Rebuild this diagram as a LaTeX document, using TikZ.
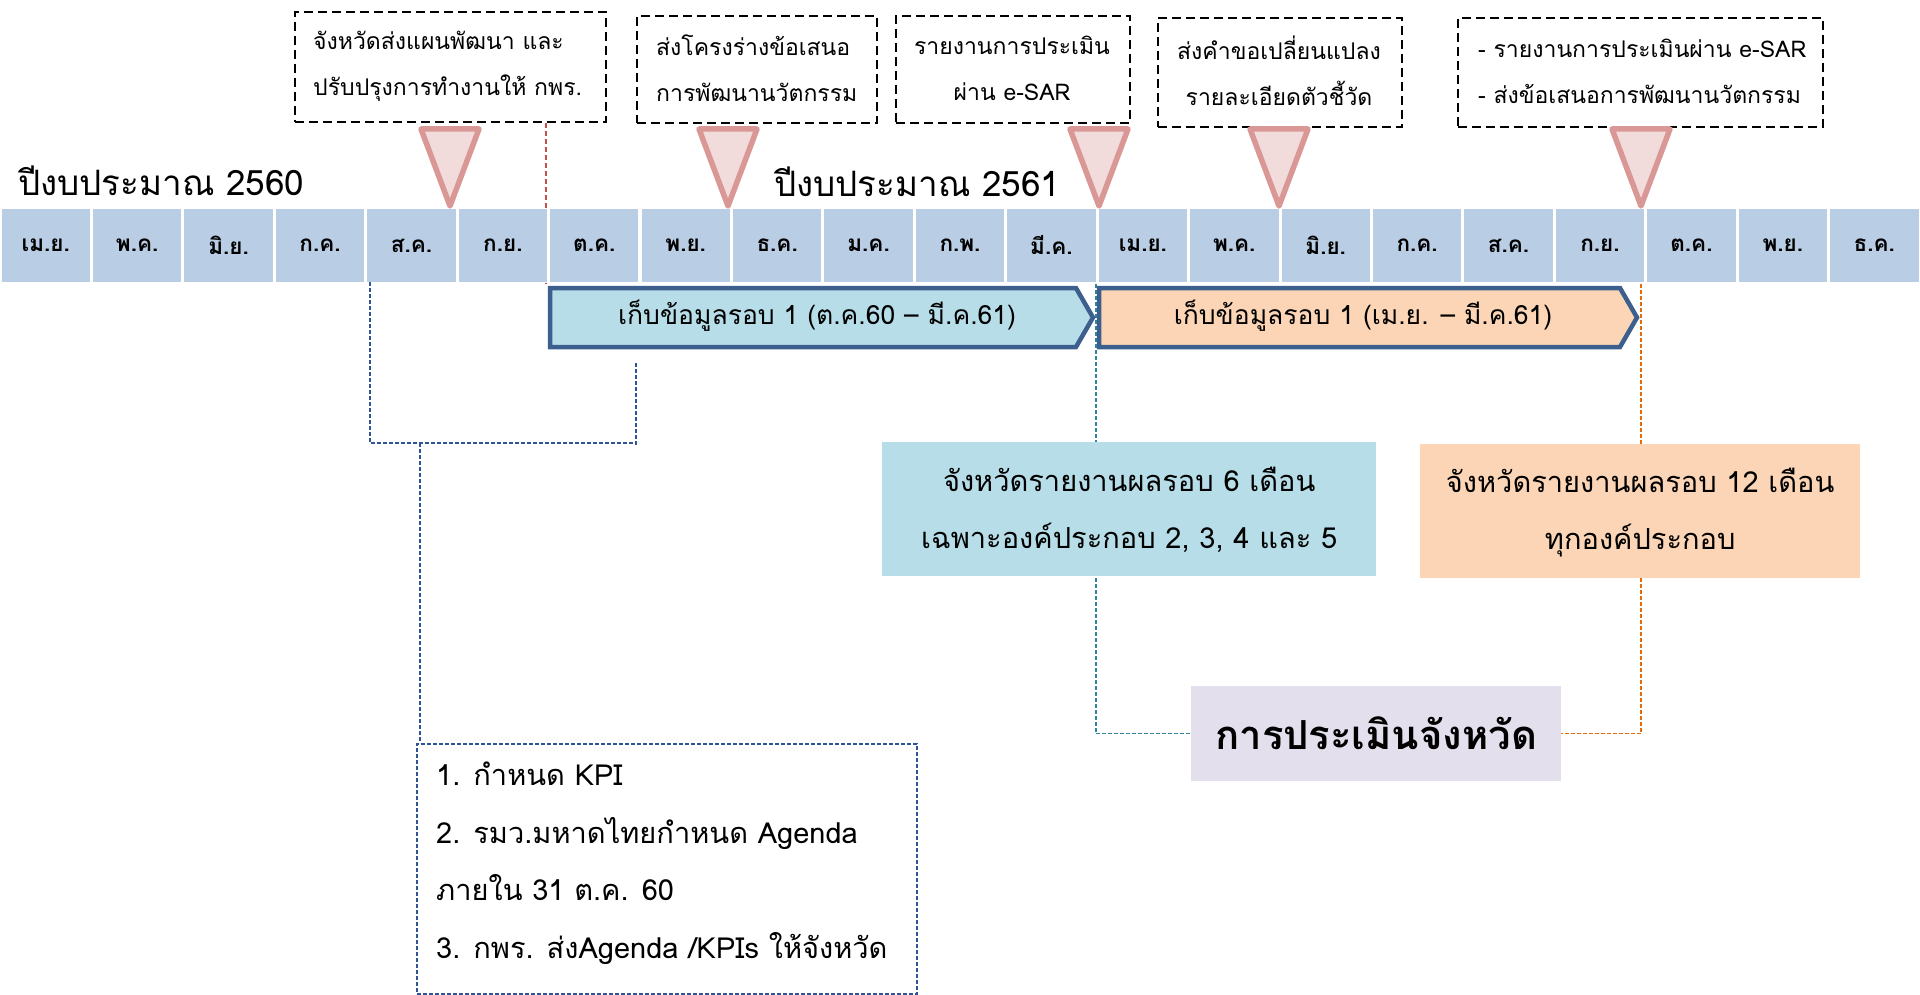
\documentclass[tikz,border=0pt]{standalone}
\usepackage{fontspec}
\setmainfont[Script=Thai]{Loma}
\usetikzlibrary{backgrounds}
\definecolor{monthblue}{HTML}{B9CDE5}
\definecolor{chevborder}{HTML}{3C5F8D}
\definecolor{lightblue}{HTML}{B7DEE8}
\definecolor{peach}{HTML}{FBD5B5}
\definecolor{lavender}{HTML}{E4DFEC}
\definecolor{trifill}{HTML}{F2DCDB}
\definecolor{tristroke}{HTML}{D99795}
\definecolor{reddash}{HTML}{C0504D}
\definecolor{bluedash}{HTML}{2F5597}
\definecolor{tealdash}{HTML}{31859C}
\definecolor{orangedash}{HTML}{E46C0A}
\tikzset{
  month/.style={fill=monthblue, minimum width=88.4, minimum height=73, inner sep=0,
    font=\bfseries\fontsize{22.5}{26}\selectfont},
  callout/.style={draw=black, line width=1.8, dash pattern=on 9 off 5, inner sep=0},
  ctext/.style={font=\fontsize{23}{46}\selectfont, inner sep=0},
  chev/.style={draw=chevborder, line width=4.5, line join=miter},
  tri/.style={draw=tristroke, fill=trifill, line width=5.5, line join=round},
  thindash/.style={line width=1.5, dash pattern=on 4 off 2},
  report/.style={inner sep=0, font=\fontsize{29}{57}\selectfont, align=center},
}
\begin{document}
\begin{tikzpicture}[x=1pt, y=-1pt]
\useasboundingbox (0,0) rectangle (1920,995);
% months
\foreach \m [count=\i from 0] in {เม.ย.,พ.ค.,มิ.ย.,ก.ค.,ส.ค.,ก.ย.,ต.ค.,พ.ย.,ธ.ค.,ม.ค.,ก.พ.,มี.ค.,เม.ย.,พ.ค.,มิ.ย.,ก.ค.,ส.ค.,ก.ย.,ต.ค.,พ.ย.,ธ.ค.}
  \node[month] (m\i) at ({(\i+0.5)*91.4286},245.5) {\m};
% fiscal-year titles
\node[anchor=west, inner sep=0, font=\fontsize{35}{40}\selectfont] (fy60) at (18,181) {ปีงบประมาณ 2560};
\node[anchor=west, inner sep=0, font=\fontsize{35}{40}\selectfont] (fy61) at (774,182) {ปีงบประมาณ 2561};
% callout boxes
\node[callout, minimum width=311, minimum height=110, anchor=north west] (co1) at (294,11) {};
\node[ctext, anchor=west, align=left] (t1) at (313,66) {จังหวัดส่งแผนพัฒนา และ\\ปรับปรุงการทำงานให้ กพร.};
\node[callout, minimum width=240, minimum height=107, anchor=north west] (co2) at (636,15) {};
\node[ctext, anchor=west, align=left] (t2) at (656,68) {ส่งโครงร่างข้อเสนอ\\การพัฒนานวัตกรรม};
\node[callout, minimum width=234, minimum height=107, anchor=north west] (co3) at (895,15) {};
\node[ctext, align=center] (t3) at (1012,68) {รายงานการประเมิน\\ผ่าน e-SAR};
\node[callout, minimum width=244, minimum height=109, anchor=north west] (co4) at (1157,17) {};
\node[ctext, align=center] (t4) at (1279,71) {ส่งคำขอเปลี่ยนแปลง\\รายละเอียดตัวชี้วัด};
\node[callout, minimum width=365, minimum height=109, anchor=north west] (co5) at (1457,17) {};
\node[ctext, anchor=west, align=left] (t5) at (1478,71) {- รายงานการประเมินผ่าน e-SAR\\- ส่งข้อเสนอการพัฒนานวัตกรรม};
% triangles
\foreach \x in {450,728,1099,1279,1641}
  \draw[tri] (\x-29,129) -- (\x+29,129) -- (\x,206) -- cycle;
% chevrons
\draw[chev, fill=lightblue] (550,288) -- (1076,288) -- (1093,317.5) -- (1076,347) -- (550,347) -- cycle;
\node[inner sep=0, font=\fontsize{26.5}{30}\selectfont] (c1) at (817,316) {เก็บข้อมูลรอบ 1 (ต.ค.60 – มี.ค.61)};
\draw[chev, fill=peach] (1099,288) -- (1620,288) -- (1637,317.5) -- (1620,347) -- (1099,347) -- cycle;
\node[inner sep=0, font=\fontsize{26.5}{30}\selectfont] (c2) at (1363,316) {เก็บข้อมูลรอบ 1 (เม.ย. – มี.ค.61)};
% report boxes
\node[fill=lightblue, minimum width=494, minimum height=134, anchor=north west] (r6) at (882,442) {};
\node[report] (r6t) at ([yshift=-1]r6.center) {จังหวัดรายงานผลรอบ 6 เดือน\\เฉพาะองค์ประกอบ 2, 3, 4 และ 5};
\node[fill=peach, minimum width=440, minimum height=134, anchor=north west] (r12) at (1420,444) {};
\node[report] (r12t) at ([yshift=-1]r12.center) {จังหวัดรายงานผลรอบ 12 เดือน\\ทุกองค์ประกอบ};
% evaluation box
\node[fill=lavender, minimum width=370, minimum height=95, anchor=north west] (eval) at (1191,686) {};
\node[inner sep=0, font=\bfseries\fontsize{40}{46}\selectfont] (evalt) at (eval) {การประเมินจังหวัด};
% tasks box
\node[draw=bluedash, thindash, minimum width=500, minimum height=250, anchor=north west] (tasks) at (416,743) {};
\node[anchor=north west, inner sep=0, align=left, font=\fontsize{29}{57.5}\selectfont] (taskst) at (436,762)
  {1. กำหนด KPI\\2. รมว.มหาดไทยกำหนด Agenda\\ภายใน 31 ต.ค. 60\\3. กพร. ส่งAgenda /KPIs ให้จังหวัด};
% connectors
\coordinate (red) at (546,284);
\coordinate (bk) at (370,282);
\coordinate (bkr) at (636,446);
\coordinate (stem) at (420,443);
\coordinate (teal) at (1096,284);
\coordinate (orng) at (1641,284);
\begin{scope}[on background layer]
  \draw[reddash, line width=1.6, dash pattern=on 5 off 3] (red |- co1.south) -- (red);
  \draw[bluedash, thindash] (bk) |- (bkr |- stem) ;
  \draw[bluedash, thindash] (bkr |- c1.south) ++(0,31) -- (bkr);
  \draw[bluedash, thindash] (stem) -- (stem |- tasks.north);
  \draw[tealdash, thindash] (teal) |- (eval.west);
  \draw[orangedash, thindash] (orng) |- (eval.east);
\end{scope}
\end{tikzpicture}
\end{document}
